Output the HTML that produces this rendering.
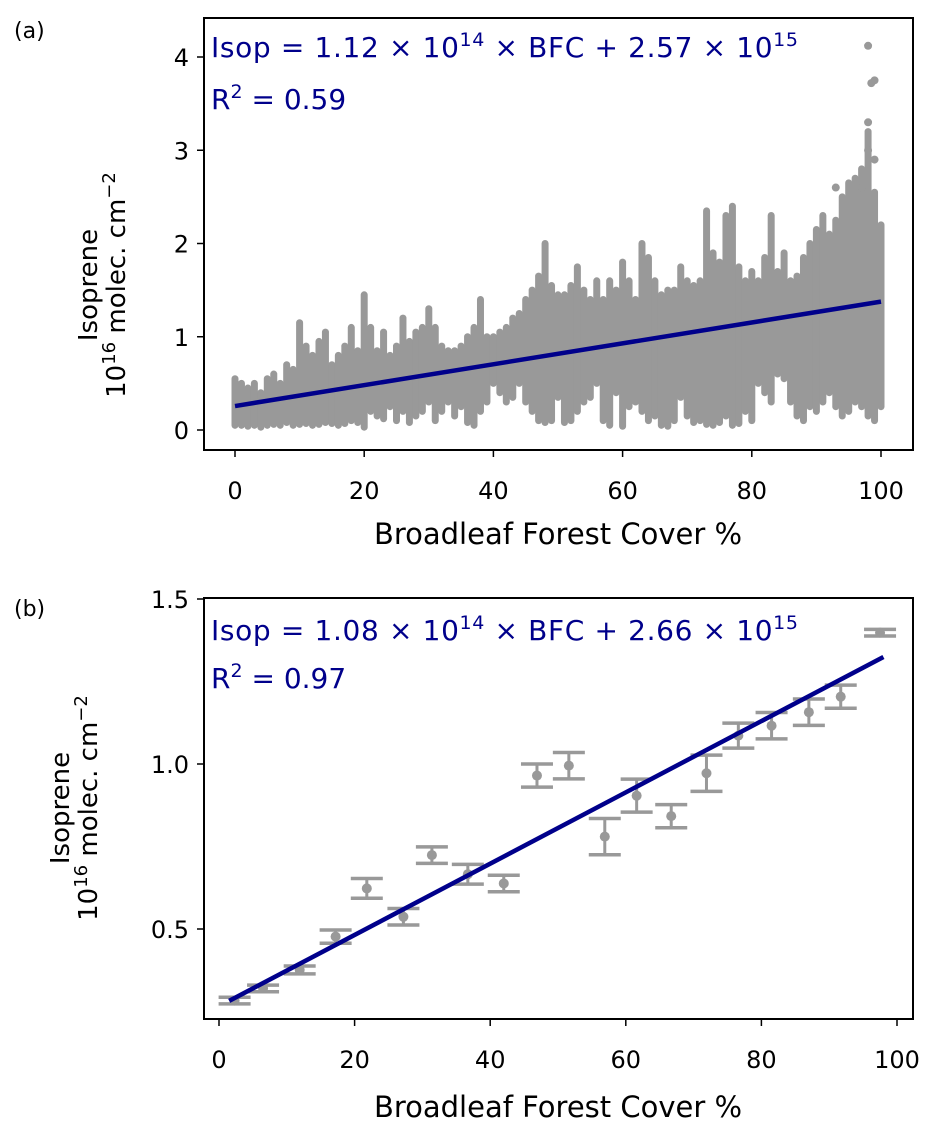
<!DOCTYPE html>
<html><head><meta charset="utf-8"><style>
body{margin:0;background:#fff}
svg{display:block;font-family:"DejaVu Sans","Liberation Sans",sans-serif}
</style></head><body>
<svg id="fig" width="939" height="1136" viewBox="0 0 939 1136">
<text x="14" y="38" font-size="22">(a)</text>
<text x="14" y="616" font-size="22">(b)</text>
<g id="ga"></g>
<g id="gb"></g>
<rect x="204" y="18" width="709" height="432" fill="none" stroke="#000" stroke-width="2"/>
<rect x="204" y="598" width="709" height="421" fill="none" stroke="#000" stroke-width="2"/>
<text x="211" y="57" font-size="28" fill="#00008b" textLength="587">Isop = 1.12 × 10<tspan dy="-11" font-size="19">14</tspan><tspan dy="11"> × BFC + 2.57 × 10</tspan><tspan dy="-11" font-size="19">15</tspan></text>
<text x="211" y="109" font-size="28" fill="#00008b">R<tspan dy="-11" font-size="19">2</tspan><tspan dy="11"> = 0.59</tspan></text>
<text x="211" y="640" font-size="28" fill="#00008b" textLength="587">Isop = 1.08 × 10<tspan dy="-11" font-size="19">14</tspan><tspan dy="11"> × BFC + 2.66 × 10</tspan><tspan dy="-11" font-size="19">15</tspan></text>
<text x="211" y="688" font-size="28" fill="#00008b">R<tspan dy="-11" font-size="19">2</tspan><tspan dy="11"> = 0.97</tspan></text>
<text x="558" y="544" font-size="29" text-anchor="middle">Broadleaf Forest Cover %</text>
<text x="558" y="1117" font-size="29" text-anchor="middle">Broadleaf Forest Cover %</text>
<g transform="translate(97,285) rotate(-90)"><text x="0" y="0" font-size="26" text-anchor="middle">Isoprene</text><text x="0" y="28" font-size="26" text-anchor="middle">10<tspan dy="-10" font-size="18">16</tspan><tspan dy="10"> molec. cm</tspan><tspan dy="-10" font-size="18">−2</tspan></text></g>
<g transform="translate(69,808) rotate(-90)"><text x="0" y="0" font-size="26" text-anchor="middle">Isoprene</text><text x="0" y="28" font-size="26" text-anchor="middle">10<tspan dy="-10" font-size="18">16</tspan><tspan dy="10"> molec. cm</tspan><tspan dy="-10" font-size="18">−2</tspan></text></g>
</svg>
<script>
// Panel A data (per-column ranges of dense scatter + outliers)
const aLo = [0.05,0.05,0.04,0.05,0.03,0.05,0.06,0.05,0.08,0.05,0.06,0.07,0.05,0.06,0.08,0.07,0.05,0.07,0.1,0.08,0.03,0.2,0.15,0.12,0.25,0.1,0.2,0.08,0.15,0.2,0.3,0.1,0.2,0.3,0.15,0.25,0.08,0.05,0.2,0.3,0.5,0.4,0.3,0.35,0.5,0.3,0.2,0.1,0.08,0.1,0.35,0.08,0.1,0.2,0.3,0.35,0.5,0.1,0.05,0.4,0.04,0.25,0.3,0.2,0.1,0.15,0.05,0.04,0.1,0.35,0.15,0.08,0.1,0.06,0.05,0.08,0.15,0.05,0.07,0.2,0.1,0.5,0.4,0.3,0.6,0.55,0.3,0.15,0.1,0.25,0.2,0.3,0.4,0.25,0.15,0.2,0.3,0.25,0.15,0.1,0.25];
const aHi = [0.55,0.5,0.45,0.5,0.4,0.55,0.6,0.5,0.7,0.65,1.15,0.9,0.8,0.95,1.05,0.7,0.8,0.9,1.1,0.85,1.45,1.1,0.85,1.05,0.8,0.9,1.2,0.95,1.05,1.1,1.3,1.1,0.9,0.85,0.85,0.9,1.0,1.1,1.4,1.0,1.0,1.05,1.1,1.2,1.25,1.4,1.5,1.65,2.0,1.55,1.45,1.45,1.55,1.75,1.5,1.4,1.6,1.4,1.6,1.5,1.8,1.6,1.4,2.0,1.85,1.6,1.45,1.5,1.5,1.75,1.6,1.55,1.6,2.35,1.9,1.8,2.3,2.4,1.75,1.6,1.7,1.6,1.85,2.3,1.7,1.9,1.6,1.65,1.85,2.0,2.15,2.3,2.1,2.25,2.5,2.65,2.7,2.8,3.2,2.55,2.2];
const aOutX = [98,98.5,99,98,98,99,97,93];
const aOutY = [4.12,3.72,3.75,3.3,3.0,2.9,2.6,2.6];
const aFit = [1.12e14, 2.57e15];
const aXTicks = [0,20,40,60,80,100];
const aYTicks = [0,1,2,3,4];
// Panel B data
const bX = [2.3,6.5,11.9,17.2,21.8,27.2,31.4,36.7,42,46.9,51.6,56.9,61.6,66.7,71.9,76.6,81.5,87,91.7,97.5];
const bY = [0.283,0.32,0.376,0.477,0.623,0.537,0.724,0.666,0.638,0.965,0.995,0.78,0.904,0.842,0.972,1.086,1.116,1.157,1.204,1.398];
const bErr = [0.01,0.01,0.012,0.02,0.03,0.025,0.025,0.03,0.025,0.035,0.04,0.055,0.05,0.035,0.055,0.038,0.04,0.04,0.035,0.01];
const bFit = [1.08e14, 2.66e15];
const bXTicks = [0,20,40,60,80,100];
const bYTicks = [0.5,1.0,1.5];

const NS='http://www.w3.org/2000/svg';
function mk(tag,attrs,parent){const e=document.createElementNS(NS,tag);for(const k in attrs)e.setAttribute(k,attrs[k]);parent.appendChild(e);return e;}
const svg=document.getElementById('fig');
const ga=document.getElementById('ga'), gb=document.getElementById('gb');
const axA={x:v=>235+v*6.46, y:v=>430-v*93.25};
const axB={x:v=>219+v*6.78, y:v=>929-(v-0.5)*330};
const grey='#999999';

for(let i=0;i<aLo.length;i++){
  const l=mk('line',{x1:axA.x(i),x2:axA.x(i),y1:axA.y(aLo[i]),y2:axA.y(aHi[i]),stroke:grey,'stroke-width':7,'stroke-linecap':'round'},ga);
  
  
}
for(let i=0;i<aOutX.length;i++){
  const c=mk('circle',{cx:axA.x(aOutX[i]),cy:axA.y(aOutY[i]),r:4,fill:grey},ga);
  
  
}
const fa=v=>(aFit[0]*v+aFit[1])/1e16;
const la=mk('line',{x1:axA.x(0),y1:axA.y(fa(0)),x2:axA.x(100),y2:axA.y(fa(100)),stroke:'#00008b','stroke-width':4.5},ga);


aXTicks.forEach(t=>{
  const x=axA.x(t);
  const tk=mk('line',{x1:x,x2:x,y1:450,y2:457,stroke:'#000','stroke-width':1.5},svg);
  
  
  const tx=mk('text',{x:x,y:499,'font-size':24,'text-anchor':'middle'},svg);tx.textContent=t;
  
  
});
aYTicks.forEach(t=>{
  const y=axA.y(t);
  const tk=mk('line',{x1:197,x2:204,y1:y,y2:y,stroke:'#000','stroke-width':1.5},svg);
  
  
  const tx=mk('text',{x:189,y:y+9,'font-size':24,'text-anchor':'end'},svg);tx.textContent=t;
  
  
});

for(let i=0;i<bX.length;i++){
  const x=axB.x(bX[i]), y1=axB.y(bY[i]-bErr[i]), y2=axB.y(bY[i]+bErr[i]);
  const g=mk('g',{},gb);
  
  
  mk('line',{x1:x,x2:x,y1:y1,y2:y2,stroke:grey,'stroke-width':3},g);
  mk('line',{x1:x-16,x2:x+16,y1:y1,y2:y1,stroke:grey,'stroke-width':3.5},g);
  mk('line',{x1:x-16,x2:x+16,y1:y2,y2:y2,stroke:grey,'stroke-width':3.5},g);
  mk('circle',{cx:x,cy:axB.y(bY[i]),r:5,fill:grey},g);
}
const fb=v=>(bFit[0]*v+bFit[1])/1e16;
const lb=mk('line',{x1:axB.x(1.5),y1:axB.y(fb(1.5)),x2:axB.x(98),y2:axB.y(fb(98)),stroke:'#00008b','stroke-width':4.5},gb);


bXTicks.forEach(t=>{
  const x=axB.x(t);
  const tk=mk('line',{x1:x,x2:x,y1:1019,y2:1026,stroke:'#000','stroke-width':1.5},svg);
  
  
  const tx=mk('text',{x:x,y:1068,'font-size':24,'text-anchor':'middle'},svg);tx.textContent=t;
  
  
});
bYTicks.forEach(t=>{
  const y=axB.y(t);
  const tk=mk('line',{x1:197,x2:204,y1:y,y2:y,stroke:'#000','stroke-width':1.5},svg);
  
  
  const tx=mk('text',{x:189,y:y+9,'font-size':24,'text-anchor':'end'},svg);tx.textContent=t.toFixed(1);
  
  
});
</script>
</body></html>
